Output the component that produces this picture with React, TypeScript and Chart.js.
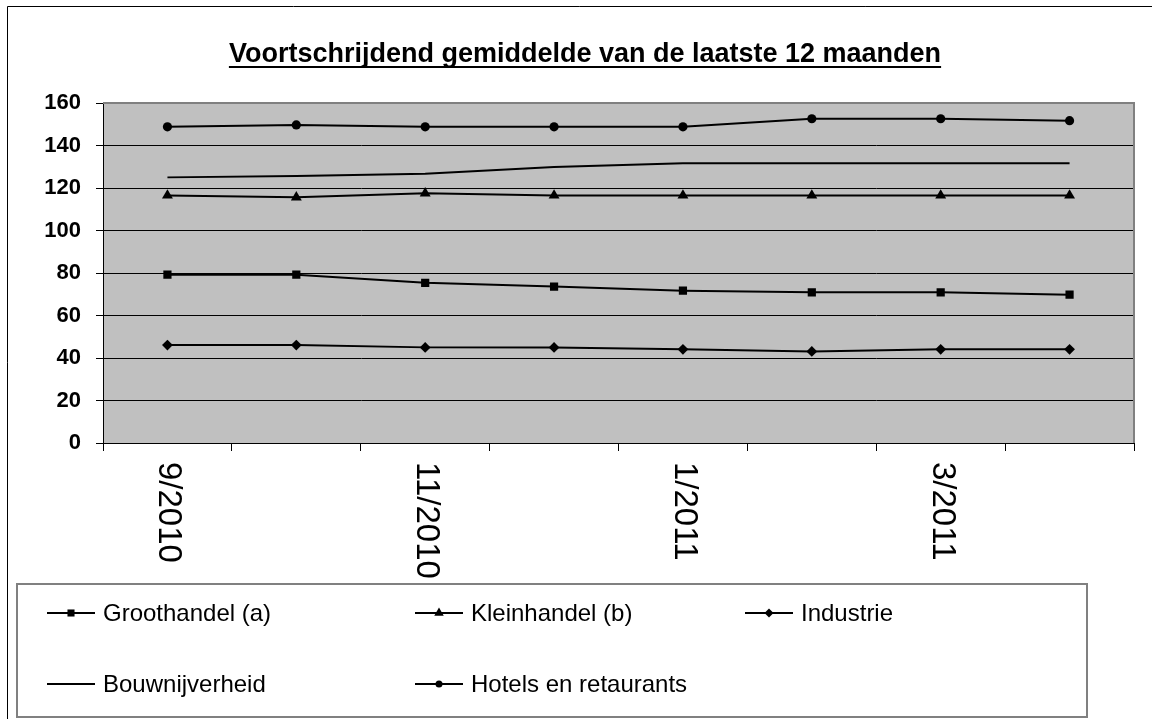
import React, { useEffect, useRef } from "react";
import { Chart, registerables } from "chart.js";

Chart.register(...registerables);

const categories = ["9/2010", "10/2010", "11/2010", "12/2010", "1/2011", "2/2011", "3/2011", "4/2011"];
const tickLabels = ["9/2010", "", "11/2010", "", "1/2011", "", "3/2011", ""];
const yTicks = [0, 20, 40, 60, 80, 100, 120, 140, 160];

const groothandel = [79.2, 79.2, 75.4, 73.6, 71.7, 70.9, 70.9, 69.8];
const kleinhandel = [116.5, 115.6, 117.5, 116.5, 116.5, 116.5, 116.5, 116.5];
const industrie = [46.1, 46.1, 45.0, 45.0, 44.1, 43.1, 44.1, 44.1];
const bouwnijverheid = [125.0, 125.7, 126.7, 129.9, 131.6, 131.6, 131.6, 131.6];
const hotels = [148.8, 149.7, 148.8, 148.8, 148.8, 152.6, 152.6, 151.7];

const seriesNames = ["Groothandel (a)", "Kleinhandel (b)", "Industrie", "Bouwnijverheid", "Hotels en retaurants"];
const titleText = "Voortschrijdend gemiddelde van de laatste 12 maanden";

const FONT = "'Liberation Sans', Arial, sans-serif";

function drawMarker(ctx: CanvasRenderingContext2D, style: string, x: number, y: number, r: number) {
  ctx.beginPath();
  if (style === "rect") {
    const s = r * Math.SQRT1_2;
    ctx.rect(x - s, y - s, 2 * s, 2 * s);
  } else if (style === "triangle") {
    ctx.moveTo(x, y - r);
    ctx.lineTo(x + r * 0.866, y + r * 0.5);
    ctx.lineTo(x - r * 0.866, y + r * 0.5);
    ctx.closePath();
  } else if (style === "rectRot") {
    ctx.moveTo(x, y - r);
    ctx.lineTo(x + r, y);
    ctx.lineTo(x, y + r);
    ctx.lineTo(x - r, y);
    ctx.closePath();
  } else if (style === "circle") {
    ctx.arc(x, y, r, 0, Math.PI * 2);
  } else {
    return;
  }
  ctx.fill();
}

const legendMarkerSize: Record<string, number> = { rect: 5, triangle: 5.5, rectRot: 4.5, circle: 3.5 };

const decorPlugin = {
  id: "decor",
  beforeDraw(chart: any) {
    const { ctx, chartArea } = chart;
    ctx.save();
    ctx.fillStyle = "#ffffff";
    ctx.fillRect(0, 0, chart.width, chart.height);
    ctx.fillStyle = "#c0c0c0";
    ctx.fillRect(chartArea.left, chartArea.top, chartArea.right - chartArea.left, chartArea.bottom - chartArea.top);
    ctx.restore();
  },
  afterDraw(chart: any) {
    const { ctx, chartArea } = chart;
    ctx.save();
    // outer frame (left + top)
    ctx.strokeStyle = "#000";
    ctx.lineWidth = 1;
    ctx.beginPath();
    ctx.moveTo(7.5, chart.height);
    ctx.lineTo(7.5, 6.5);
    ctx.lineTo(chart.width, 6.5);
    ctx.stroke();

    // plot area top/right border
    ctx.strokeStyle = "#808080";
    ctx.lineWidth = 2;
    ctx.beginPath();
    ctx.moveTo(chartArea.left, chartArea.top);
    ctx.lineTo(chartArea.right, chartArea.top);
    ctx.lineTo(chartArea.right, chartArea.bottom);
    ctx.stroke();

    // title with underline
    ctx.fillStyle = "#000";
    ctx.font = `bold 27px ${FONT}`;
    ctx.textAlign = "center";
    ctx.textBaseline = "alphabetic";
    const tx = 585;
    const ty = 62;
    ctx.fillText(titleText, tx, ty);
    const w = ctx.measureText(titleText).width;
    ctx.fillRect(tx - w / 2, ty + 4, w, 2);

    // x tick labels, rotated clockwise
    const xs = chart.scales.x;
    ctx.font = `33px ${FONT}`;
    ctx.textAlign = "left";
    ctx.textBaseline = "middle";
    tickLabels.forEach((lab, i) => {
      if (!lab) return;
      const x = xs.getPixelForValue(i);
      ctx.save();
      ctx.translate(x + 1, 462);
      ctx.rotate(Math.PI / 2);
      ctx.fillText(lab, 0, 0);
      ctx.restore();
    });

    // legend box
    ctx.strokeStyle = "#808080";
    ctx.lineWidth = 2;
    ctx.strokeRect(17, 584, 1087 - 17, 717 - 584);

    const cols = [47, 415, 745];
    const rows = [613, 684];
    ctx.font = `24px ${FONT}`;
    ctx.textAlign = "left";
    ctx.textBaseline = "middle";
    chart.data.datasets.forEach((ds: any, i: number) => {
      const cx = cols[i % 3];
      const cy = rows[Math.floor(i / 3)];
      ctx.strokeStyle = "#000";
      ctx.lineWidth = 2;
      ctx.beginPath();
      ctx.moveTo(cx, cy);
      ctx.lineTo(cx + 48, cy);
      ctx.stroke();
      if (ds.pointRadius > 0) {
        ctx.fillStyle = "#000";
        drawMarker(ctx, ds.pointStyle, cx + 24, cy, legendMarkerSize[ds.pointStyle] || 4);
      }
      ctx.fillStyle = "#000";
      ctx.fillText(ds.label, cx + 56, cy + 1);
    });
    ctx.restore();
  },
};

export default function App() {
  const ref = useRef<HTMLCanvasElement | null>(null);

  useEffect(() => {
    document.body.style.margin = "0";
    const canvas = ref.current;
    if (!canvas) return;
    const mk = (label: string, data: number[], pointStyle: string, pointRadius: number) => ({
      label,
      data,
      borderColor: "#000",
      backgroundColor: "#000",
      borderWidth: 2,
      pointStyle,
      pointRadius,
      pointBackgroundColor: "#000",
      pointBorderColor: "#000",
      pointBorderWidth: 0,
      tension: 0,
      fill: false,
    });
    const chart = new Chart(canvas, {
      type: "line",
      data: {
        labels: categories,
        datasets: [
          mk(seriesNames[0], groothandel, "rect", 5.8),
          mk(seriesNames[1], kleinhandel, "triangle", 6.3),
          mk(seriesNames[2], industrie, "rectRot", 5.4),
          mk(seriesNames[3], bouwnijverheid, "circle", 0),
          mk(seriesNames[4], hotels, "circle", 4.6),
        ],
      },
      options: {
        responsive: false,
        animation: false,
        devicePixelRatio: 1,
        layout: { padding: { top: 103, left: 0, right: 18, bottom: 0 } },
        plugins: {
          legend: { display: false },
          title: { display: false },
          tooltip: { enabled: false },
        },
        scales: {
          x: {
            type: "category",
            offset: true,
            grid: {
              offset: true,
              drawOnChartArea: false,
              drawTicks: true,
              tickLength: 8,
              color: "#000",
              tickColor: "#000",
            },
            border: { color: "#000", width: 1 },
            ticks: { display: false },
            afterFit: (scale: any) => {
              scale.height = 719 - 443;
            },
          },
          y: {
            min: 0,
            max: 160,
            afterBuildTicks: (scale: any) => {
              scale.ticks = yTicks.map((v) => ({ value: v }));
            },
            grid: {
              color: (c: any) => (c.tick && c.tick.value === 160 ? "#808080" : "#000"),
              tickColor: "#000",
              tickLength: 7,
              lineWidth: 1,
            },
            border: { color: "#000", width: 1 },
            ticks: {
              color: "#000",
              padding: 15,
              font: { family: FONT, size: 22, weight: "bold" },
            },
            afterFit: (scale: any) => {
              scale.width = 103;
            },
          },
        },
      },
      plugins: [decorPlugin],
    } as any);
    return () => chart.destroy();
  }, []);

  return (
    <div style={{ width: 1152, height: 719, position: "relative" }}>
      <canvas ref={ref} width={1152} height={719} style={{ display: "block", width: 1152, height: 719 }} />
    </div>
  );
}
